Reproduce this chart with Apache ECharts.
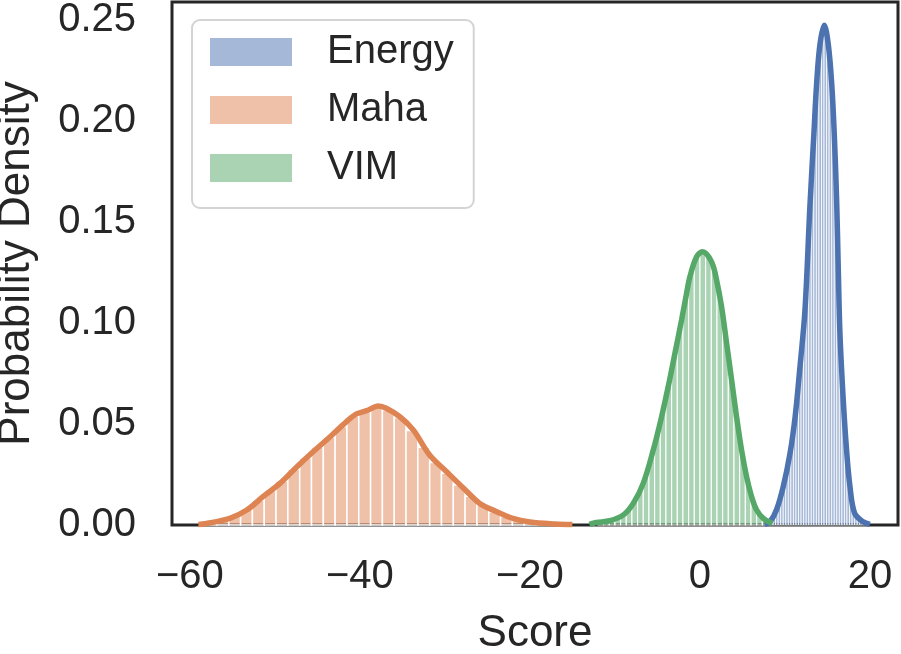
<!DOCTYPE html>
<html>
<head>
<meta charset="utf-8">
<script src="https://cdn.jsdelivr.net/npm/echarts@6/dist/echarts.min.js"></script>
<style>
html,body{margin:0;padding:0;background:#fff;}
#chart{width:901px;height:654px;}
</style>
</head>
<body>
<div id="chart"></div>
<script>
// ---- data ----
const seriesNames = ['Energy', 'Maha', 'VIM'];
const xTicks = [-60, -40, -20, 0, 20];
const yTicks = [0, 0.05, 0.10, 0.15, 0.20, 0.25];

// histogram bins: first left edge, bin width, heights (density)
const energyBinStart = 8.0;
const energyBinWidth = 0.3;
const energyHist = [0.0012, 0.0030, 0.0055, 0.0078, 0.0115, 0.0160, 0.0220, 0.0283, 0.0345, 0.0430,
  0.0520, 0.0640, 0.0780, 0.0940, 0.1070, 0.1290, 0.1610, 0.1830, 0.2050, 0.2260,
  0.2390, 0.2460, 0.2470, 0.2400, 0.2270, 0.2060, 0.1750, 0.1310, 0.0880, 0.0625,
  0.0430, 0.0280, 0.0165, 0.0085, 0.0048, 0.0030, 0.0020, 0.0012];

const mahaBinStart = -58.2;
const mahaBinWidth = 1.39;
const mahaHist = [0.0008, 0.0022, 0.0044, 0.0076, 0.0122, 0.0170, 0.0218, 0.0276, 0.0332, 0.0386,
  0.0434, 0.0488, 0.0538, 0.0563, 0.0586, 0.0570, 0.0532, 0.0468, 0.0385, 0.0310,
  0.0256, 0.0198, 0.0142, 0.0098, 0.0066, 0.0042, 0.0024, 0.0013, 0.0007, 0.0003];

const vimBinStart = -12.0;
const vimBinWidth = 0.667;
const vimHist = [0.0010, 0.0014, 0.0024, 0.0034, 0.0050, 0.0075, 0.0118, 0.0170, 0.0240, 0.0340,
  0.0450, 0.0570, 0.0698, 0.0838, 0.0975, 0.1120, 0.1250, 0.1330, 0.1352, 0.1330,
  0.1265, 0.1130, 0.0945, 0.0735, 0.0530, 0.0350, 0.0210, 0.0110, 0.0055, 0.0025];

// KDE curves: [score, density]
const energyKde = [[7.6, 0.0003], [8.24, 0.0016], [9.0, 0.0074], [9.8, 0.019], [10.6, 0.0355], [11.2, 0.0536],
  [11.76, 0.078], [12.35, 0.106], [12.94, 0.158], [13.41, 0.194], [13.73, 0.2187], [14.12, 0.238],
  [14.63, 0.2475], [15.1, 0.238], [15.5, 0.2187], [15.8, 0.194], [16.08, 0.161], [16.27, 0.128],
  [16.47, 0.095], [16.86, 0.0619], [17.25, 0.037], [17.65, 0.019], [18.2, 0.0058], [19.2, 0.0016], [20.0, 0.0003]];

const mahaKde = [[-59, 0.0003], [-58.2, 0.0006], [-55.3, 0.0033], [-53.3, 0.0074], [-51.4, 0.014], [-49.4, 0.0206],
  [-47.4, 0.0289], [-45.5, 0.0363], [-43.5, 0.0437], [-41.6, 0.0511], [-40.4, 0.055], [-39.2, 0.0566],
  [-37.8, 0.0589], [-36.9, 0.0578], [-35.3, 0.0536], [-33.7, 0.047], [-31.8, 0.0347], [-29.8, 0.0264],
  [-27.8, 0.0182], [-25.9, 0.0107], [-23.9, 0.0066], [-22.0, 0.0033], [-20, 0.0015], [-17, 0.0005], [-15, 0.0002]];

const vimKde = [[-13, 0.0003], [-12.2, 0.0012], [-10.6, 0.0021], [-9.0, 0.005], [-7.84, 0.0107], [-6.67, 0.0206],
  [-5.49, 0.0371], [-4.51, 0.0536], [-3.73, 0.0685], [-2.94, 0.085], [-2.16, 0.1015], [-1.57, 0.1147],
  [-1.18, 0.1229], [-0.39, 0.1328], [0.31, 0.1353], [1.37, 0.1303], [1.96, 0.1213], [2.55, 0.108],
  [3.14, 0.09], [3.73, 0.0718], [4.31, 0.0536], [4.9, 0.0371], [5.49, 0.0239], [6.08, 0.014],
  [6.67, 0.0074], [7.45, 0.0033], [8.5, 0.0008]];

// ---- styles ----
const FONT = "'Liberation Sans', Arial, sans-serif";
const TEXT = '#262626';
const lineColors = ['#4C72B0', '#DD8452', '#55A868'];
const fillColors = ['rgba(76,114,176,0.5)', 'rgba(221,132,82,0.5)', 'rgba(85,168,104,0.5)'];

function bins(start, width, heights) {
  return heights.map((h, i) => [start + i * width, start + (i + 1) * width, h]);
}

function histSeries(name, data, fill, edgeW) {
  return {
    name: name,
    type: 'custom',
    z: 2,
    itemStyle: { color: fill },
    encode: { x: [0, 1], y: 2 },
    data: data,
    renderItem: function (params, api) {
      const p0 = api.coord([api.value(0), api.value(2)]);
      const p1 = api.coord([api.value(1), 0]);
      return {
        type: 'rect',
        shape: { x: p0[0], y: p0[1], width: p1[0] - p0[0], height: p1[1] - p0[1] },
        style: { fill: fill, stroke: '#ffffff', lineWidth: edgeW }
      };
    }
  };
}

function kdeSeries(name, data, color) {
  return {
    name: name + ' KDE',
    type: 'line',
    z: 3,
    data: data,
    smooth: 0.35,
    showSymbol: false,
    symbol: 'none',
    lineStyle: { color: color, width: 5.5 },
    silent: true
  };
}

const chart = echarts.init(document.getElementById('chart'));
chart.setOption({
  animation: false,
  backgroundColor: '#ffffff',
  textStyle: { fontFamily: FONT },
  grid: {
    left: 172, right: 3, top: 2, bottom: 129,
    outerBoundsMode: 'none', containLabel: false,
    show: true, borderColor: TEXT, borderWidth: 3, backgroundColor: 'rgba(0,0,0,0)'
  },
  legend: {
    orient: 'vertical',
    left: 192, top: 20,
    icon: 'rect',
    itemWidth: 82, itemHeight: 28, itemGap: 18,
    padding: [12, 20, 20, 18],
    backgroundColor: 'rgba(255,255,255,0.8)',
    borderColor: '#d4d4d4', borderWidth: 2, borderRadius: 8,
    textStyle: { fontFamily: FONT, fontSize: 40, lineHeight: 40, color: TEXT, padding: [0, 0, 0, 30] },
    data: seriesNames.map((n, i) => ({ name: n, itemStyle: { color: fillColors[i] } }))
  },
  xAxis: {
    type: 'value', min: -62.1, max: 23.3,
    name: 'Score', nameLocation: 'middle', nameGap: 87,
    nameTextStyle: { fontFamily: FONT, fontSize: 44, color: TEXT },
    axisLine: { show: false }, axisTick: { show: false }, splitLine: { show: false },
    axisLabel: {
      customValues: xTicks, fontFamily: FONT, fontSize: 40, color: TEXT, margin: 32,
      formatter: v => String(v).replace('-', '\u2212')
    }
  },
  yAxis: {
    type: 'value', min: 0, max: 0.259,
    name: 'Probability Density', nameLocation: 'middle', nameGap: 133,
    nameTextStyle: { fontFamily: FONT, fontSize: 44, color: TEXT },
    axisLine: { show: false }, axisTick: { show: false }, splitLine: { show: false },
    axisLabel: {
      customValues: yTicks, fontFamily: FONT, fontSize: 40, color: TEXT, margin: 36,
      formatter: v => v.toFixed(2)
    }
  },
  series: [
    histSeries('Energy', bins(energyBinStart, energyBinWidth, energyHist), fillColors[0], 0.8),
    kdeSeries('Energy', energyKde, lineColors[0]),
    histSeries('Maha', bins(mahaBinStart, mahaBinWidth, mahaHist), fillColors[1], 1.5),
    kdeSeries('Maha', mahaKde, lineColors[1]),
    histSeries('VIM', bins(vimBinStart, vimBinWidth, vimHist), fillColors[2], 1.1),
    kdeSeries('VIM', vimKde, lineColors[2])
  ]
});
</script>
</body>
</html>
